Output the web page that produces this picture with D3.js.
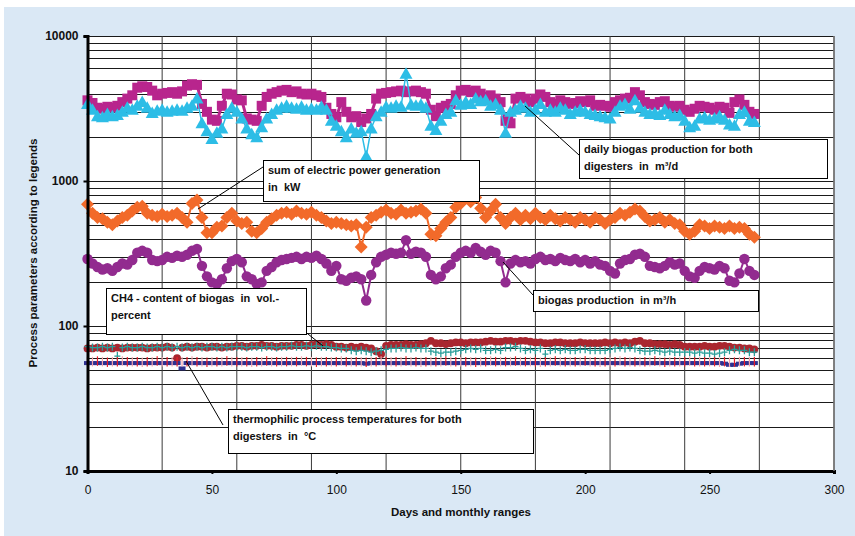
<!DOCTYPE html>
<html>
<head>
<meta charset="utf-8">
<script src="https://cdn.jsdelivr.net/npm/d3@7"></script>
<style>
  body { margin: 0; background: #ffffff; }
  svg { display: block; }
  text { font-family: "Liberation Sans", Arial, sans-serif; fill: #111; }
</style>
</head>
<body>
<svg id="chart" width="855" height="536"></svg>
<script>
// ---- data: one reading every second day ----
const days = d3.range(0, 269, 2);

// daily biogas production for both digesters, m³/d
const dailyBiogas = [
  3600,3450,3200,3150,3250,3200,3300,3500,3700,3900,
  4400,4500,4450,4200,3900,4000,4050,4100,4000,4150,
  4550,4650,4600,3400,3000,2650,2600,3300,4000,3950,
  3650,3600,2700,2650,2600,3300,3800,4000,4100,4200,
  4250,4100,4150,4000,3950,4000,3900,3800,3200,2900,
  2750,3500,3000,2750,2800,2550,2700,2900,3700,4000,
  4050,4100,4150,4200,4100,4150,4200,4100,4000,3100,
  2800,3200,3300,3400,3900,4200,4250,4100,4200,4000,
  3800,3900,3700,3500,2600,2500,3700,3800,3700,3500,
  3700,3950,3800,3500,3400,3600,3500,3400,3450,3550,
  3500,3600,3300,3350,3300,3250,3500,3600,3700,3750,
  4100,3900,3500,3400,3350,3500,3550,3300,3250,3300,
  3100,3000,3150,3300,3250,3200,3100,3250,3200,2950,
  3500,3650,3350,3000,2900
];

// daily biogas production, second measurement, m³/d
const dailyBiogasMeasured = [
  3400,3100,2800,2750,2900,2800,2850,3000,3200,3100,
  3300,3500,3200,2950,3050,3100,3000,3050,3100,3050,
  3200,3300,3700,2500,2200,1950,2150,2300,2900,3200,
  3000,2700,2300,2100,2000,2350,2700,2900,3100,3200,
  3300,3200,3150,3250,3100,3150,3100,3250,3100,2600,
  2400,2200,2000,2300,2150,2200,1480,2300,2800,3000,
  3250,3200,3300,3250,5500,3350,3300,3350,3200,2400,
  2250,2600,2900,3000,3600,3350,3500,3400,3700,3550,
  3600,3300,3400,3100,2150,3000,3100,3300,3200,3000,
  3100,3400,3000,3100,3000,3200,3100,2900,3000,3100,
  3000,2900,2850,2800,2750,2700,3000,3300,3400,3150,
  3600,3200,3000,2900,2950,2850,3100,2900,2800,2850,
  2600,2350,2400,2700,2750,2650,2700,2800,2650,2450,
  2400,2900,3000,2600,2550
];

// sum of electric power generation, kW
const electricPower = [
  690,600,560,550,520,500,530,560,580,620,
  660,670,600,580,570,590,570,580,600,560,
  520,700,740,560,440,440,480,490,560,600,
  530,510,520,450,440,470,520,550,580,600,
  610,590,620,600,590,610,580,560,530,510,
  520,510,500,490,500,350,480,560,580,610,
  630,600,590,630,600,610,620,640,600,430,
  420,470,520,560,660,700,760,720,770,650,
  560,620,690,560,510,560,600,540,580,550,
  600,560,540,580,550,530,560,540,520,560,
  540,520,560,540,510,540,560,600,580,610,
  640,620,570,530,540,560,520,540,510,500,
  450,430,450,500,490,470,490,480,470,490,
  470,480,470,430,410
];

// biogas production, m³/h
const biogasHourly = [
  290,270,255,245,250,240,255,270,265,285,
  320,330,320,285,280,285,300,295,305,300,
  310,330,340,260,220,200,195,210,250,280,
  290,275,220,210,195,200,240,255,275,285,
  290,295,300,290,300,295,305,290,270,240,
  260,210,205,215,220,210,150,225,275,300,
  310,320,315,320,390,315,325,320,300,225,
  210,220,250,265,300,320,330,320,345,325,
  310,330,320,280,200,270,285,275,280,270,
  290,300,285,290,280,295,285,280,290,275,
  285,270,280,265,260,240,230,270,285,290,
  310,315,300,260,255,250,260,275,265,270,
  240,220,215,240,255,250,245,260,250,205,
  200,230,290,240,225
];

// CH4 content of biogas, vol.-percent (two analysers)
const ch4Content = [
  70,70,71,70,71,70,71,70,71,71,
  71,71,70,71,71,71,72,71,60,71,
  72,71,72,72,71,72,72,71,72,72,
  73,73,72,73,73,74,73,73,72,73,
  73,73,74,74,73,74,75,74,75,74,
  72,72,71,72,71,72,71,70,67,64,
  73,74,74,74,75,74,74,75,76,79,
  76,76,75,76,77,77,76,77,77,77,
  78,79,78,78,79,79,78,79,79,78,
  77,77,76,76,77,77,76,76,76,77,
  76,76,76,76,77,76,77,76,77,76,
  78,79,76,76,75,75,75,74,75,74,
  72,72,72,72,73,72,72,73,73,72,
  71,71,70,70,69
];
const ch4ContentB = [
  72,71,71,72,71,72,62,71,72,71,
  71,72,71,71,72,71,72,71,72,71,
  72,71,72,71,72,72,71,72,71,72,
  72,72,71,72,72,71,72,72,71,72,
  72,73,72,72,73,72,73,72,72,71,
  71,70,70,68,67,68,67,66,67,68,
  69,70,70,71,70,70,71,70,70,67,
  66,65,66,66,67,68,69,70,69,70,
  68,68,69,68,71,71,72,70,68,69,
  68,70,64,68,69,68,69,68,68,69,
  69,68,68,68,68,69,70,71,70,71,
  70,68,67,67,68,67,66,67,66,66,
  66,66,65,66,65,65,64,65,66,68,
  69,68,68,66,66
];

// thermophilic process temperatures, °C
const tempDigester1 = [
  57,57,57.5,57,56.5,57,57,57.5,57,57,
  57,56.5,57,57,57.5,57,57,57,57,57,
  57,57.5,57,57,56.5,57,57,57,57.5,57,
  57,57,57,56.5,57,57,57.5,57,57,57,
  57,57,57,57.5,57,57,56.5,57,57,57,
  57,57.5,57,57,57,57,56.5,57,57,57.5,
  57,57,57,57,57.5,57,57,56.5,57,57,
  57,57,57.5,57,57,57,57,57,56.5,57,
  57,57.5,57,57,57,57,57.5,57,57,57,
  57,56.5,57,57,57.5,57,57,57,57,57,
  57.5,57,57,56.5,57,57,57,57.5,57,57,
  57,57,57,57,57.5,57,56.5,57,57,57,
  57,57.5,57,57,57,57,57,56.5,57,56.5,
  56.5,57,57,57,57
];
const tempDigester2 = [
  55.5,55.5,55.5,55.5,55.5,55.5,55.5,55.5,55.5,55.5,
  55.5,55.5,55.5,55.5,55.5,55.5,55.5,55.5,55.5,51,
  55.5,55.5,55.5,55.5,55.5,55.5,55.5,55.5,55.5,55.5,
  55.5,55.5,55.5,55.5,55.5,55.5,55.5,55.5,55.5,55.5,
  55.5,55.5,55.5,55.5,55.5,55.5,55.5,55.5,55.5,55.5,
  55.5,55.5,55.5,55.5,55.5,55.5,55,55.5,55.5,55.5,
  55.5,55.5,55.5,55.5,55.5,55.5,55.5,55.5,55.5,55.5,
  55.5,55.5,55.5,55.5,55.5,55.5,55.5,55.5,55.5,55.5,
  55.5,55.5,55.5,55.5,55.5,55.5,55.5,55.5,55.5,55.5,
  55.5,55.5,55.5,55.5,55.5,55.5,55.5,55.5,55.5,55.5,
  55.5,55.5,55.5,55.5,55.5,55.5,55.5,55.5,55.5,55.5,
  55.5,55.5,55.5,55.5,55.5,55.5,55.5,55.5,55.5,55.5,
  55.5,55.5,55.5,55.5,55.5,55.5,55.5,55.5,55,54,
  54,55,55.5,55.5,55.5
];

const xTicks = [0, 50, 100, 150, 200, 250, 300];
const yTicks = [10, 100, 1000, 10000];
const monthBoundaries = [30, 60, 90, 120, 150, 180, 210, 240, 270, 300];

// ---- layout ----
const svg = d3.select("#chart");
const plot = { left: 87.5, right: 834, top: 36, bottom: 471 };

const x = d3.scaleLinear().domain([0, 300]).range([plot.left, plot.right]);
const y = d3.scaleLog().domain([10, 10000]).range([plot.bottom, plot.top]);

// light blue panel and white plotting area
svg.append("rect").attr("x", 4).attr("y", 7).attr("width", 851).attr("height", 529)
  .attr("fill", "#dae8f5");
svg.append("rect").attr("x", plot.left).attr("y", plot.top)
  .attr("width", plot.right - plot.left).attr("height", plot.bottom - plot.top)
  .attr("fill", "#ffffff");

// horizontal grid on every log step
const grid = svg.append("g");
grid.selectAll("line.h").data(y.ticks()).join("line")
  .attr("class", "h")
  .attr("x1", plot.left).attr("x2", plot.right)
  .attr("y1", d => Math.round(y(d)) + 0.5).attr("y2", d => Math.round(y(d)) + 0.5)
  .attr("stroke", "#1a1a1a").attr("stroke-width", 1);

// vertical lines at monthly boundaries
grid.selectAll("line.v").data(monthBoundaries).join("line")
  .attr("class", "v")
  .attr("x1", d => x(d)).attr("x2", d => x(d))
  .attr("y1", plot.top).attr("y2", plot.bottom)
  .attr("stroke", "#3a3a3a").attr("stroke-width", 1);

// ---- series ----
const series = svg.append("g");
function pts(vals) { return vals.map((v, i) => [x(days[i]), y(v)]); }
const line = d3.line();

function drawLine(vals, color, width) {
  series.append("path").attr("d", line(pts(vals)))
    .attr("fill", "none").attr("stroke", color).attr("stroke-width", width)
    .attr("stroke-linejoin", "round");
}
function drawMarkers(vals, pathStr, fill, stroke, strokeWidth) {
  series.append("g").selectAll("path").data(pts(vals)).join("path")
    .attr("d", pathStr)
    .attr("transform", d => `translate(${d[0]},${d[1]})`)
    .attr("fill", fill)
    .attr("stroke", stroke || "none")
    .attr("stroke-width", strokeWidth || 0);
}

const squarePath = "M-5,-5H5V5H-5Z";
const trianglePath = "M0,-6.5L6.5,5H-6.5Z";
const diamondPath = "M0,-6.5L6.5,0L0,6.5L-6.5,0Z";
const circlePath = d3.symbol(d3.symbolCircle, 85)();
const dotPath = d3.symbol(d3.symbolCircle, 48)();
const plusPath = "M-3,0H3M0,-4V4";
const dashPath = "M-3.5,-2H3.5V2H-3.5Z";

// m³/d
drawLine(dailyBiogas, "#b8258d", 3);
drawMarkers(dailyBiogas, squarePath, "#b8258d");
drawLine(dailyBiogasMeasured, "#2dbde6", 1.5);
drawMarkers(dailyBiogasMeasured, trianglePath, "#2dbde6");

// kW
drawLine(electricPower, "#f26a2a", 2);
drawMarkers(electricPower, diamondPath, "#f26a2a");

// m³/h
drawLine(biogasHourly, "#922b8f", 2);
drawMarkers(biogasHourly, circlePath, "#922b8f");

// CH4 vol.-%
drawMarkers(ch4Content, dotPath, "#a9262f");
drawMarkers(ch4ContentB, plusPath, "none", "#2a9d99", 1.3);

// temperatures °C
drawMarkers(tempDigester2, dashPath, "#2e3192");
series.append("g").selectAll("line").data(pts(tempDigester1)).join("line")
  .attr("x1", d => d[0]).attr("x2", d => d[0])
  .attr("y1", d => d[1] - 4.5).attr("y2", d => d[1] + 5)
  .attr("stroke", (d, i) => i % 2 ? "#f6a3aa" : "#ea1d27")
  .attr("stroke-width", 1.2);

// ---- axes ----
const yAxis = svg.append("g").attr("transform", `translate(${plot.left},0)`)
  .call(d3.axisLeft(y).tickValues(yTicks).tickFormat(d3.format("d")).tickSize(4).tickPadding(5));
yAxis.select(".domain").attr("stroke", "#000").attr("stroke-width", 3);
yAxis.selectAll(".tick line").attr("stroke", "#000").attr("stroke-width", 2);
yAxis.selectAll(".tick text").attr("font-size", 12).attr("font-weight", "bold")
  .attr("font-family", "Liberation Sans, Arial, sans-serif").attr("fill", "#111");

const xAxis = svg.append("g").attr("transform", `translate(0,${plot.bottom})`)
  .call(d3.axisBottom(x).tickValues(xTicks).tickSize(3).tickPadding(11));
xAxis.select(".domain").attr("stroke", "#000").attr("stroke-width", 3);
xAxis.selectAll(".tick line").attr("stroke", "#000").attr("stroke-width", 2);
xAxis.selectAll(".tick text").attr("font-size", 12)
  .attr("font-family", "Liberation Sans, Arial, sans-serif").attr("fill", "#111");

// right border of plotting area
svg.append("line").attr("x1", plot.right).attr("x2", plot.right)
  .attr("y1", plot.top).attr("y2", plot.bottom).attr("stroke", "#777").attr("stroke-width", 1.5);

// axis titles
svg.append("text").attr("x", 461).attr("y", 516).attr("text-anchor", "middle")
  .attr("font-size", 11.5).attr("font-weight", "bold").text("Days and monthly ranges");
svg.append("text").attr("transform", "translate(37,253) rotate(-90)").attr("text-anchor", "middle")
  .attr("font-size", 11.5).attr("font-weight", "bold").text("Process parameters according to legends");

// ---- callouts ----
const callouts = [
  { box: [263, 160, 216, 41], lines: ["sum of electric power generation", "in  kW"], leader: [[263, 167], [198, 209]] },
  { box: [579, 139, 248, 39], lines: ["daily biogas production for both", "digesters  in  m³/d"], leader: [[579, 155], [525, 106]] },
  { box: [533, 290, 225, 21], lines: ["biogas production  in m³/h"], leader: [[533, 295], [503, 262]] },
  { box: [106, 288, 200, 46], lines: ["CH4 - content of biogas  in  vol.-", "percent"], leader: [[303, 330], [323, 346]] },
  { box: [228, 409, 305, 44], lines: ["thermophilic process temperatures for both", "digesters  in  °C"], leader: [[223, 425], [186, 361]] }
];
const notes = svg.append("g");
callouts.forEach(c => {
  notes.append("line")
    .attr("x1", c.leader[0][0]).attr("y1", c.leader[0][1])
    .attr("x2", c.leader[1][0]).attr("y2", c.leader[1][1])
    .attr("stroke", "#000").attr("stroke-width", 1);
  notes.append("rect").attr("x", c.box[0] + 0.5).attr("y", c.box[1] + 0.5)
    .attr("width", c.box[2]).attr("height", c.box[3])
    .attr("fill", "#fff").attr("stroke", "#000").attr("stroke-width", 1);
  c.lines.forEach((t, i) => {
    notes.append("text").attr("x", c.box[0] + 5).attr("y", c.box[1] + 14 + i * 17)
      .attr("font-size", 11).attr("font-weight", "bold")
      .attr("xml:space", "preserve").style("white-space", "pre").text(t);
  });
});
</script>
</body>
</html>
